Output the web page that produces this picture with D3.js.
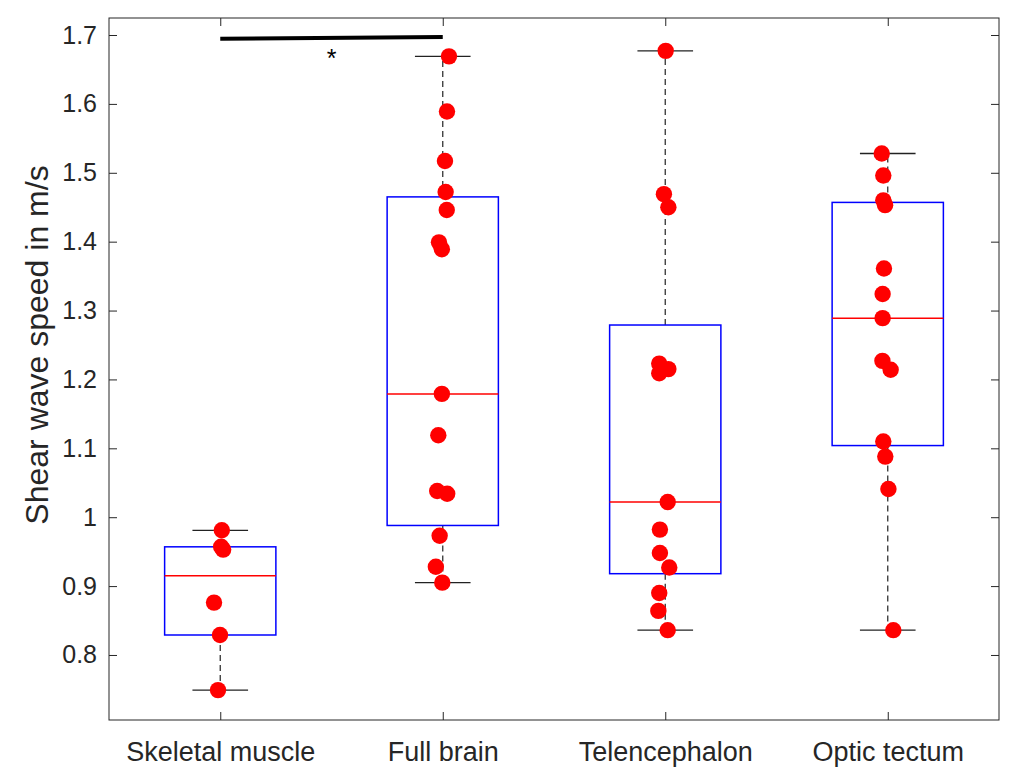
<!DOCTYPE html>
<html>
<head>
<meta charset="utf-8">
<script src="https://cdn.jsdelivr.net/npm/d3@7"></script>
<style>
  body { margin: 0; background: #fff; }
  svg { display: block; font-family: "Liberation Sans", Arial, sans-serif; }
</style>
</head>
<body>
<svg id="chart" width="1018" height="775"></svg>
<script>
// ── Data ──────────────────────────────────────────────────────────────────
const categories = ['Skeletal muscle', 'Full brain', 'Telencephalon', 'Optic tectum'];

// box statistics
const whiskerLow  = [0.749, 0.905, 0.836, 0.836];
const quart1      = [0.829, 0.988, 0.918, 1.104];
const medians     = [0.915, 1.179, 1.022, 1.289];
const quart3      = [0.957, 1.465, 1.279, 1.457];
const whiskerHigh = [0.981, 1.669, 1.677, 1.528];

// individual measurements and their horizontal jitter (category units)
const skeletalVals = [0.981, 0.957, 0.953, 0.876, 0.829, 0.749];
const skeletalJit  = [0.007, 0.004, 0.013, -0.028, -0.001, -0.010];
const brainVals = [1.669, 1.589, 1.517, 1.472, 1.446, 1.399, 1.389, 1.179, 1.119, 1.038, 1.034, 0.973, 0.928, 0.905];
const brainJit  = [0.028, 0.019, 0.010, 0.013, 0.018, -0.017, -0.004, -0.004, -0.020, -0.025, 0.020, -0.014, -0.031, -0.002];
const telVals = [1.677, 1.469, 1.450, 1.223, 1.215, 1.209, 1.022, 0.982, 0.948, 0.927, 0.890, 0.864, 0.836];
const telJit  = [0.002, -0.006, 0.014, -0.027, 0.014, -0.027, 0.011, -0.024, -0.024, 0.018, -0.027, -0.031, 0.011];
const tectumVals = [1.528, 1.496, 1.460, 1.453, 1.361, 1.324, 1.289, 1.227, 1.214, 1.110, 1.088, 1.041, 0.836];
const tectumJit  = [-0.027, -0.020, -0.020, -0.012, -0.017, -0.023, -0.023, -0.024, 0.013, -0.020, -0.011, 0.003, 0.025];

const yTicks = [0.8, 0.9, 1, 1.1, 1.2, 1.3, 1.4, 1.5, 1.6, 1.7];

// significance bracket between groups 1 and 2
const sigX = [1, 2];
const sigY = [1.6945, 1.697];

(function () {
  // ── Setup ───────────────────────────────────────────────────────────────
  const svg = d3.select('#chart');
  const pl = 109, pr = 999, pt = 18, pb = 720;
  const axisColor = '#262626';

  const x = d3.scaleLinear().domain([0.5, 4.5]).range([pl, pr]);
  const y = d3.scaleLinear().domain([0.7056, 1.7247]).range([pb, pt]);

  const groups = [
    { vals: skeletalVals, jit: skeletalJit },
    { vals: brainVals, jit: brainJit },
    { vals: telVals, jit: telJit },
    { vals: tectumVals, jit: tectumJit }
  ];

  // ── Axes (box with inward ticks) ───────────────────────────────────────
  const tickLen = 8;
  const fmt = d3.format('~g');

  svg.append('g')
    .attr('transform', `translate(${pl},0)`)
    .call(d3.axisLeft(y).tickValues(yTicks).tickFormat(fmt).tickSizeInner(-tickLen).tickSizeOuter(0).tickPadding(12))
    .call(g => {
      g.select('.domain').remove();
      g.selectAll('line').attr('stroke', axisColor);
      g.selectAll('text').attr('fill', axisColor).style('font-size', '25px')
        .attr('font-family', '"Liberation Sans", Arial, sans-serif');
    });

  svg.append('g')
    .attr('transform', `translate(${pr},0)`)
    .call(d3.axisRight(y).tickValues(yTicks).tickFormat('').tickSizeInner(-tickLen).tickSizeOuter(0))
    .call(g => { g.select('.domain').remove(); g.selectAll('line').attr('stroke', axisColor); });

  svg.append('g')
    .attr('transform', `translate(0,${pb})`)
    .call(d3.axisBottom(x).tickValues([1, 2, 3, 4]).tickFormat((d, i) => categories[i])
      .tickSizeInner(-tickLen).tickSizeOuter(0).tickPadding(22))
    .call(g => {
      g.select('.domain').remove();
      g.selectAll('line').attr('stroke', axisColor);
      g.selectAll('text').attr('fill', axisColor).style('font-size', '27px')
        .attr('font-family', '"Liberation Sans", Arial, sans-serif');
    });

  svg.append('g')
    .attr('transform', `translate(0,${pt})`)
    .call(d3.axisTop(x).tickValues([1, 2, 3, 4]).tickFormat('').tickSizeInner(-tickLen).tickSizeOuter(0))
    .call(g => { g.select('.domain').remove(); g.selectAll('line').attr('stroke', axisColor); });

  svg.append('rect')
    .attr('x', pl).attr('y', pt)
    .attr('width', pr - pl).attr('height', pb - pt)
    .attr('fill', 'none').attr('stroke', axisColor).attr('stroke-width', 1);

  svg.append('text')
    .attr('transform', `translate(48,345) rotate(-90)`)
    .attr('text-anchor', 'middle')
    .attr('fill', axisColor)
    .style('font-size', '32px')
    .text('Shear wave speed in m/s');

  // ── Box plots ───────────────────────────────────────────────────────────
  const boxHalf = 0.25, capHalf = 0.125;
  const boxes = svg.append('g');

  categories.forEach(function (c, i) {
    const cx = i + 1;
    const g = boxes.append('g');

    // dashed whiskers
    g.append('line')
      .attr('x1', x(cx)).attr('x2', x(cx))
      .attr('y1', y(quart3[i])).attr('y2', y(whiskerHigh[i]))
      .attr('stroke', '#333').attr('stroke-width', 1.3).attr('stroke-dasharray', '6,4');
    g.append('line')
      .attr('x1', x(cx)).attr('x2', x(cx))
      .attr('y1', y(quart1[i])).attr('y2', y(whiskerLow[i]))
      .attr('stroke', '#333').attr('stroke-width', 1.3).attr('stroke-dasharray', '6,4');

    // whisker caps
    [whiskerHigh[i], whiskerLow[i]].forEach(function (v) {
      g.append('line')
        .attr('x1', x(cx - capHalf)).attr('x2', x(cx + capHalf))
        .attr('y1', y(v)).attr('y2', y(v))
        .attr('stroke', '#222').attr('stroke-width', 1.3);
    });

    // box
    g.append('rect')
      .attr('x', x(cx - boxHalf)).attr('width', x(cx + boxHalf) - x(cx - boxHalf))
      .attr('y', y(quart3[i])).attr('height', y(quart1[i]) - y(quart3[i]))
      .attr('fill', 'none').attr('stroke', '#0000ff').attr('stroke-width', 1.5);

    // median
    g.append('line')
      .attr('x1', x(cx - boxHalf)).attr('x2', x(cx + boxHalf))
      .attr('y1', y(medians[i])).attr('y2', y(medians[i]))
      .attr('stroke', '#ff0000').attr('stroke-width', 1.5);
  });

  // ── Points ──────────────────────────────────────────────────────────────
  const points = svg.append('g');
  groups.forEach(function (grp, i) {
    points.selectAll(null)
      .data(grp.vals.map((v, k) => ({ v: v, j: grp.jit[k] })))
      .join('circle')
        .attr('cx', d => x(i + 1 + d.j))
        .attr('cy', d => y(d.v))
        .attr('r', 8.2)
        .attr('fill', '#ff0000');
  });

  // ── Significance bracket ────────────────────────────────────────────────
  svg.append('line')
    .attr('x1', x(sigX[0])).attr('x2', x(sigX[1]))
    .attr('y1', y(sigY[0])).attr('y2', y(sigY[1]))
    .attr('stroke', '#000').attr('stroke-width', 4);

  svg.append('text')
    .attr('x', x((sigX[0] + sigX[1]) / 2))
    .attr('y', y(sigY[0]) + 28)
    .attr('text-anchor', 'middle')
    .attr('fill', '#000')
    .style('font-size', '25px')
    .text('*');
})();
</script>
</body>
</html>
